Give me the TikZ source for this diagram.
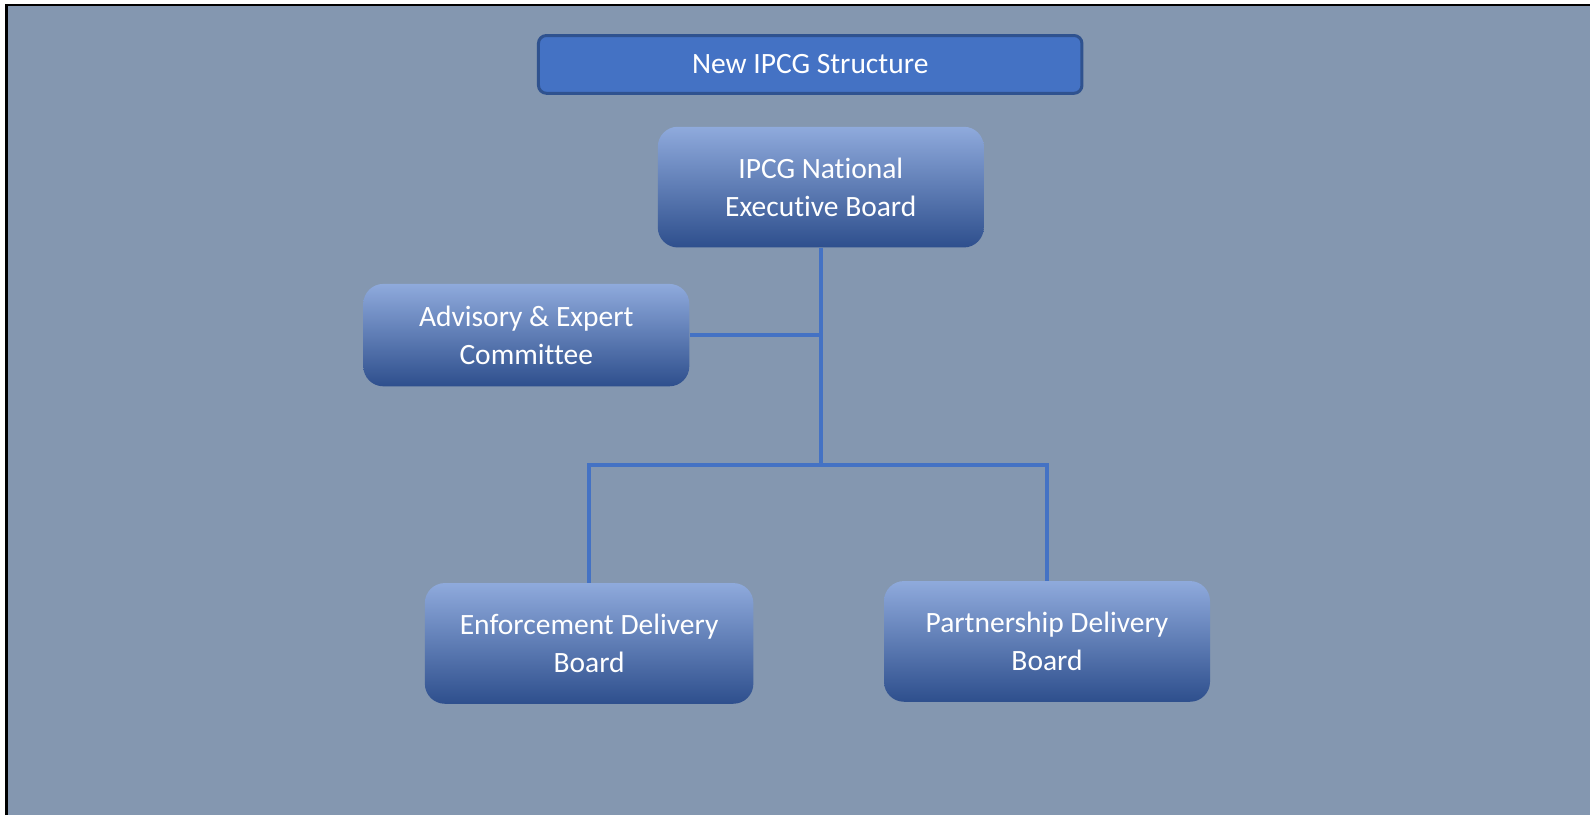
\documentclass[tikz,border=0pt]{standalone}
\usepackage{fontspec}
\setmainfont{Carlito}[Ligatures=NoCommon]
\usepackage{tikz}
\usetikzlibrary{positioning,calc}
\definecolor{slide}{HTML}{8497B0}
\definecolor{accent}{HTML}{4472C4}
\definecolor{accentdark}{HTML}{2F528F}
\definecolor{boxtop}{HTML}{8FAADC}
\definecolor{boxbottom}{HTML}{2E4F8D}
\tikzset{
    every node/.style={font=\fontsize{29.5}{38}\selectfont, text=white},
    board/.style={rounded corners=20pt, top color=boxtop, middle color=accent,
        bottom color=boxbottom, align=center, inner sep=0pt,
        minimum width=326pt, minimum height=120.7pt,
        execute at begin node=\rule{0pt}{35pt}},
    banner/.style={rounded corners=8pt, fill=accent, draw=accentdark,
        line width=3pt, inner sep=0pt},
    link/.style={draw=accent, line width=4pt}
}

\begin{document}
\begin{tikzpicture}[x=1pt,y=-1pt]
    \useasboundingbox (0,0) rectangle (1590,815);
    \fill[white] (0,0) rectangle (1590,815);
    \fill[slide] (6.5,5) rectangle (1590,815);
    \draw[black, line width=2.5pt] (6.5,815) -- (6.5,5) -- (1590,5);

    \node[banner, minimum width=543.5pt, minimum height=57.8pt] (title) at (810.2,64.4) {New IPCG Structure};
    \node[board] (exec) at (820.8,187.1) {IPCG National\\Executive Board};
    \node[board, minimum height=102.4pt] (advisory) at (526.3,335.1) {Advisory \& Expert\\Committee};
    \node[board, minimum width=328.5pt] (enforce) at (589.1,643.4) {Enforcement Delivery\\Board};
    \node[board] (partner) at (1047,641.4) {Partnership Delivery\\Board};

    \coordinate (bus) at (820.8,465.4);
    \draw[link] (exec.south) -- (bus);
    \draw[link] (advisory.east) -- (advisory.east -| exec.south);
    \draw[link] (enforce.north) |- (bus) -| (partner.north);
\end{tikzpicture}
\end{document}
